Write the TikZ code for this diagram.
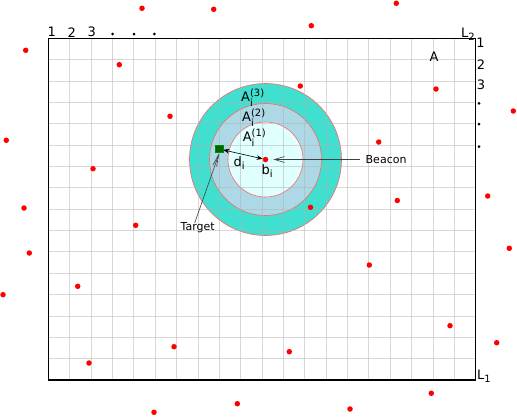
\documentclass[tikz,border=0pt]{standalone}
\usepackage{amsmath}
\usepackage{fontspec}
\setmainfont{DejaVu Sans}
\DeclareMathSizes{13}{13}{10}{8}
\usetikzlibrary{arrows.meta}
\definecolor{ringout}{RGB}{64,224,208}
\definecolor{ringmid}{RGB}{173,216,230}
\definecolor{ringin}{RGB}{224,255,255}
\definecolor{tgtgreen}{RGB}{0,100,0}
\begin{document}
\begin{tikzpicture}[x=1pt,y=-1pt,
  dot/.style={circle,fill=red,inner sep=0pt,minimum size=5.5pt},
  tickdot/.style={circle,fill=black,inner sep=0pt,minimum size=3pt},
  lbl/.style={font=\fontsize{13}{15}\selectfont,inner sep=0pt},
  smalllbl/.style={font=\fontsize{11}{13}\selectfont,inner sep=0pt},
  ring/.style={draw=red!60!white,line width=0.6pt},
  gridline/.style={draw=black!30,opacity=0.5,line width=0.9pt},
  pointer/.style={black!75,line width=0.6pt}]
\useasboundingbox (0,0) rectangle (517,416);
\fill[white] (0,0) rectangle (517,416);
% rings
\coordinate (c) at (265.5,159.5);
\filldraw[ring,fill=ringout] (c) circle (76);
\filldraw[ring,fill=ringmid] (c) circle (56);
\filldraw[ring,fill=ringin] (c) circle (37.5);
% grid
\foreach \i in {1,...,19} \draw[gridline] ({48.5+\i*21.36},38.3) -- ({48.5+\i*21.36},380);
\foreach \j in {1,...,15} \draw[gridline] (48.5,{38.3+\j*21.36}) -- (475.7,{38.3+\j*21.36});
\draw[black,line width=1.2pt] (48.5,38.3) rectangle (475.7,380);
% axis labels
\node[lbl] (t1) at (51.7,32.2) {1};
\node[lbl] (t2) at (71.7,32.2) {2};
\node[lbl] (t3) at (91.7,32.2) {3};
\node[tickdot] (t4) at (112.7,34) {};
\node[tickdot] (t5) at (134,34) {};
\node[tickdot] (t6) at (154.3,34) {};
\node[lbl] (r1) at (480.5,42.7) {1};
\node[lbl] (r2) at (481,65) {2};
\node[lbl] (r3) at (481,85) {3};
\node[tickdot] (r4) at (479,103.3) {};
\node[tickdot] (r5) at (479,124) {};
\node[tickdot] (r6) at (479,146.7) {};
\node[lbl,anchor=base west] (L2) at (461,37) {L$_\text{2}$};
\node[lbl,anchor=base west] (L1) at (477,379.8) {L$_\text{1}$};
\node[lbl] (A) at (434,57) {A};
% red dots
\foreach \p [count=\k] in {(142,8.3),(213.7,9.3),(396.3,3.3),(311.3,25.7),(25.7,50.3),(119.3,64.7),(300.3,86),(436,89),(513.3,111),(170,116.3),(6.3,140.3),(378.7,142),(93,168.7),(487.7,196),(397.3,200.5),(310.5,207.3),(24,208),(135.7,225.3),(29.3,253),(509.3,248.3),(369.3,265),(3,294.7),(77.7,286.3),(450,325.7),(174,346.7),(289.3,351.7),(496.7,342.7),(89,363),(237.3,403.7),(431.3,393.3),(154,412.3),(350,409)}
  \node[dot] (p\k) at \p {};
% beacon and target
\node[dot] (b) at (265.5,159.5) {};
\node[draw=green!55!black,fill=tgtgreen,minimum size=7.3pt,inner sep=0pt,line width=0.5pt] (tgt) at (219.3,149) {};
\draw[{Stealth[length=6pt,width=4.5pt]}-{Stealth[length=6pt,width=4.5pt]},line width=0.6pt] (tgt) -- (b);
\node[lbl,anchor=base west] (dl) at (233.5,166.5) {d$_\text{i}$};
\node[lbl,anchor=base west] (bl) at (261.5,174.5) {b$_\text{i}$};
\node[lbl,anchor=base west] (a3) at (241,101.5) {A$_\text{i}^\text{(3)}$};
\node[lbl,anchor=base west] (a2) at (242,121.5) {A$_\text{i}^\text{(2)}$};
\node[lbl,anchor=base west] (a1) at (242.6,141.5) {A$_\text{i}^\text{(1)}$};
\node[smalllbl,anchor=west] (beacon) at (365.5,159.5) {Beacon};
\draw[pointer,-{Straight Barb[length=10pt,width=6pt]},shorten >=5pt] ([xshift=-6pt]beacon.west) -- (b.east);
\node[smalllbl] (target) at (197.7,227.3) {Target};
\draw[pointer,-{Straight Barb[length=12pt,width=4pt]}] ([xshift=-3pt,yshift=-1pt]target.north) -- (tgt.south);
\end{tikzpicture}
\end{document}
